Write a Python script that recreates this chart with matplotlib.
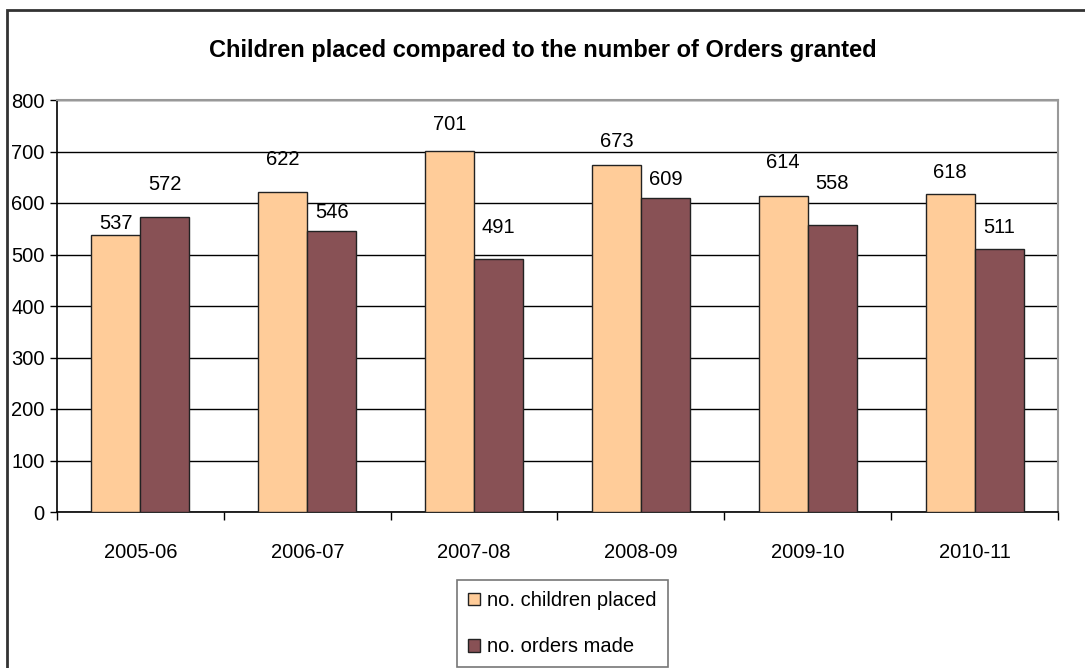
#!/usr/bin/env python3
"""Children placed vs. Orders granted, grouped bar chart by year."""

import matplotlib
matplotlib.use('Agg')
import matplotlib.pyplot as plt
from matplotlib.patches import Rectangle
import numpy as np

matplotlib.rcParams.update({
    'font.family': ['Liberation Sans', 'DejaVu Sans'],
})

# Data
years = ['2005-06', '2006-07', '2007-08', '2008-09', '2009-10', '2010-11']
children_placed = [537, 622, 701, 673, 614, 618]
orders_made = [572, 546, 491, 609, 558, 511]

# vertical offset (px) of each value label above its bar
placed_label_dy = [12, 32, 26, 24, 33, 21]
orders_label_dy = [33, 18, 32, 19, 41, 21]

ORANGE = '#FFCC99'
MAROON = '#885155'
FS = 14.5

fig = plt.figure(figsize=(10.85, 6.68), dpi=100)
ax = fig.add_axes([57 / 1085, 1 - 512 / 668, 1001 / 1085, 412 / 668])

x = np.arange(len(years))
w = 0.294
b1 = ax.bar(x - w / 2, children_placed, w, color=ORANGE, edgecolor='#222222',
            linewidth=1.0, label='no. children placed', zorder=3)
b2 = ax.bar(x + w / 2, orders_made, w, color=MAROON, edgecolor='#222222',
            linewidth=1.0, label='no. orders made', zorder=3)

# value labels above each bar
for bars, vals, dys in ((b1, children_placed, placed_label_dy),
                        (b2, orders_made, orders_label_dy)):
    for r, v, dy in zip(bars, vals, dys):
        ax.annotate(str(v), (r.get_x() + r.get_width() / 2, v),
                    xytext=(0, dy), textcoords='offset pixels',
                    ha='center', va='center', fontsize=FS, zorder=4)

ax.set_xlim(-0.5, len(years) - 0.5)
ax.set_ylim(0, 800)
ax.set_yticks(range(0, 801, 100))
ax.tick_params(axis='y', direction='out', length=5, width=1, labelsize=FS, pad=4)

# category labels centred, tick marks on boundaries
ax.set_xticks(x)
ax.set_xticklabels(years, fontsize=FS)
ax.tick_params(axis='x', which='major', length=0, pad=22)
ax.set_xticks(np.arange(-0.5, len(years)), minor=True)
ax.tick_params(axis='x', which='minor', direction='out', length=6, width=1)

ax.yaxis.grid(True, color='black', linewidth=1.0, zorder=0)
ax.set_axisbelow(True)
for side in ('left', 'bottom'):
    ax.spines[side].set_color('black')
    ax.spines[side].set_linewidth(1.2)
for side in ('top', 'right'):
    ax.spines[side].set_color('#999999')
    ax.spines[side].set_linewidth(1.5)

fig.text(0.5, 1 - 50 / 668, 'Children placed compared to the number of Orders granted',
         ha='center', va='center', fontsize=17, fontweight='bold')

# outer chart border
fig.patches.append(Rectangle((7 / 1085, -0.05), 1.1, 1 - 10 / 668 + 0.05,
                             transform=fig.transFigure, fill=False,
                             edgecolor='#333333', linewidth=2))

leg = fig.legend(handles=[b1, b2], loc='upper left',
                 bbox_to_anchor=(457 / 1085, 1 - 580 / 668),
                 frameon=True, fancybox=False, fontsize=FS, handlelength=0.6,
                 handleheight=0.6, handletextpad=0.35, labelspacing=1.35,
                 borderpad=0.55, borderaxespad=0)
leg.get_frame().set_edgecolor('#555555')
leg.get_frame().set_linewidth(1.2)

fig.savefig('out.png', dpi=100)
